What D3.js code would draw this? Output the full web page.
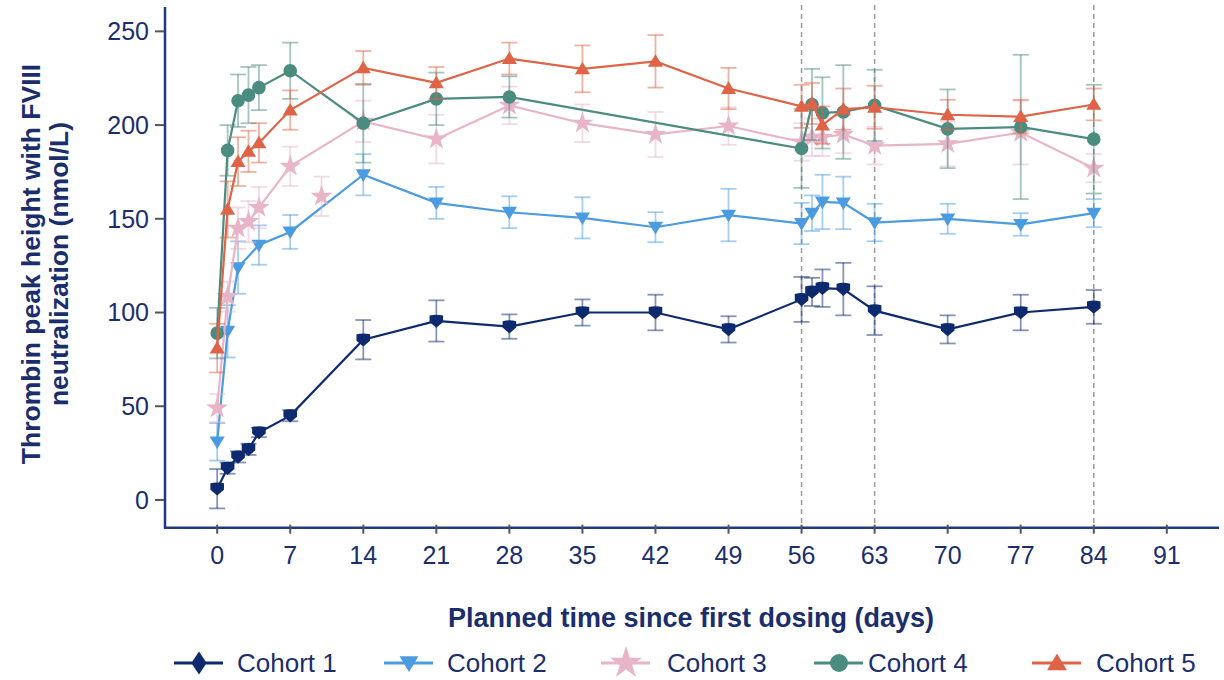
<!DOCTYPE html>
<html>
<head>
<meta charset="utf-8">
<script src="https://cdn.jsdelivr.net/npm/d3@7"></script>
<style>
  html, body { margin: 0; padding: 0; background: #fff; }
  svg { display: block; font-family: "Liberation Sans", Arial, Helvetica, sans-serif; }
</style>
</head>
<body>
<svg id="chart" width="1224" height="680"></svg>
<script>
// Planned visit days and mean (± error) thrombin peak height per cohort
const xTicks = [0, 7, 14, 21, 28, 35, 42, 49, 56, 63, 70, 77, 84, 91];
const yTicks = [0, 50, 100, 150, 200, 250];
const refDays = [56, 63, 84];

const cohortNames = ["Cohort 1", "Cohort 2", "Cohort 3", "Cohort 4", "Cohort 5"];

const c1Days = [0, 1, 2, 3, 4, 7, 14, 21, 28, 35, 42, 49, 56, 57, 58, 60, 63, 70, 77, 84];
const c1Vals = [6, 17, 23, 27, 36, 45, 85.5, 95.5, 92.5, 100, 100, 91, 107, 111, 113, 112.5, 101, 91, 100, 103];
const c1Errs = [10.5, 3, 3, 3, 2.5, 3, 10.5, 11, 6.5, 7, 9.5, 7, 12, 7.5, 10, 14, 13, 7.5, 9.5, 9];

const c2Days = [0, 1, 2, 4, 7, 14, 21, 28, 35, 42, 49, 56, 57, 58, 60, 63, 70, 77, 84];
const c2Vals = [31, 90, 124, 136, 143, 173.5, 158.5, 153.5, 150.5, 145.5, 152, 147.5, 153, 159, 158.5, 148, 150, 147, 153];
const c2Errs = [10, 14, 14, 10.5, 9, 11, 8.5, 8.5, 11, 8, 14, 11, 9.5, 14.5, 14, 10, 8, 6, 7.5];

const c3Days = [0, 1, 2, 3, 4, 7, 14, 21, 28, 35, 42, 49, 56, 57, 58, 60, 63, 70, 77, 84];
const c3Vals = [49, 108.5, 145, 148.5, 156, 178, 202, 192.5, 210.5, 201, 195, 199.5, 191, 193.5, 193.5, 195, 189, 190, 196, 177];
const c3Errs = [7.5, 8, 11, 11, 11, 10.5, 11, 13, 10, 10, 12, 10, 10, 10, 10, 10, 10, 12, 17, 7.5];
// Unscheduled visit, plotted without a connecting line
const c3ExtraDays = [10];
const c3ExtraVals = [162];
const c3ExtraErrs = [10.5];

const c4Days = [0, 1, 2, 3, 4, 7, 14, 21, 28, 56, 57, 58, 60, 63, 70, 77, 84];
const c4Vals = [89, 186.5, 213, 216, 220, 229, 201, 214, 215, 187.5, 211, 206.5, 207, 210.5, 198, 199, 192.5];
const c4Errs = [13.5, 13.5, 14, 15, 12, 15, 21, 14, 11, 21, 19, 19, 25, 19, 21, 38.5, 29];

const c5Days = [0, 1, 2, 3, 4, 7, 14, 21, 28, 35, 42, 49, 56, 57, 58, 60, 63, 70, 77, 84];
const c5Vals = [81, 155, 180.5, 186, 190.5, 208, 230.5, 222.5, 235.5, 230, 234, 219.5, 210, 211.5, 200, 208.5, 209.5, 205.5, 204.5, 211];
const c5Errs = [13, 15, 13, 11, 10.5, 10.5, 9, 8.5, 8.5, 12.5, 14, 11, 11.5, 11, 10, 11, 11.5, 8, 9, 8.5];

const colors = ["#0e2a6e", "#4b9be0", "#e8b4c8", "#4a8c80", "#df6447"];
const markerKinds = ["shield", "triDown", "star", "circle", "triUp"];
const legendKinds = ["diamond", "triDown", "star", "circle", "triUp"];

const zip = (d, v, e) => d.map((day, i) => ({ day, value: v[i], err: e[i] }));
const series = [
  { points: zip(c1Days, c1Vals, c1Errs), extra: [] },
  { points: zip(c2Days, c2Vals, c2Errs), extra: [] },
  { points: zip(c3Days, c3Vals, c3Errs), extra: zip(c3ExtraDays, c3ExtraVals, c3ExtraErrs) },
  { points: zip(c4Days, c4Vals, c4Errs), extra: [] },
  { points: zip(c5Days, c5Vals, c5Errs), extra: [] }
].map((s, i) => ({ ...s, name: cohortNames[i], color: colors[i], marker: markerKinds[i], legend: legendKinds[i] }));

const axisColor = "#1f3a82";
const textColor = "#1b2e6c";
const tickColor = "#555";

const svg = d3.select("#chart");

const x = d3.scaleLinear().domain([-5, 96]).range([165, 1219]);
const y = d3.scaleLinear().domain([-14.8, 263]).range([527.7, 7]);

function markerPath(kind, s) {
  switch (kind) {
    case "circle": return d3.symbol(d3.symbolCircle, Math.PI * s * s)();
    case "triUp": return `M0,${-s * 1.0}L${s * 1.05},${s * 0.75}L${-s * 1.05},${s * 0.75}Z`;
    case "triDown": return `M0,${s * 1.0}L${s * 1.05},${-s * 0.75}L${-s * 1.05},${-s * 0.75}Z`;
    case "star": return d3.symbol(d3.symbolStar, s * s * 3.2)();
    case "diamond": return `M0,${-s * 1.35}L${s * 0.9},0L0,${s * 1.35}L${-s * 0.9},0Z`;
    case "shield": return `M${-s},${-s * 0.8}Q0,${-s * 1.05} ${s},${-s * 0.8}L${s},${s * 0.15}L0,${s}L${-s},${s * 0.15}Z`;
  }
}
const markerSize = { circle: 6.8, triUp: 7.2, triDown: 7.2, star: 6.8, shield: 6.8, diamond: 7.5 };

// Reference lines at key visits
svg.append("g").selectAll("line").data(refDays).join("line")
  .attr("x1", d => x(d)).attr("x2", d => x(d))
  .attr("y1", 5).attr("y2", 527)
  .attr("stroke", "#9a9a9a").attr("stroke-width", 1.5)
  .attr("stroke-dasharray", "5,4");

// Y axis
const yAxis = svg.append("g").attr("transform", `translate(${x.range()[0]},0)`);
yAxis.append("line").attr("x1", 0).attr("x2", 0).attr("y1", 7).attr("y2", 528.5)
  .attr("stroke", axisColor).attr("stroke-width", 2.5);
yAxis.selectAll("line.tick").data(yTicks).join("line").attr("class", "tick")
  .attr("x1", -10).attr("x2", -1).attr("y1", d => y(d)).attr("y2", d => y(d))
  .attr("stroke", tickColor).attr("stroke-width", 2);
yAxis.selectAll("text").data(yTicks).join("text")
  .attr("x", -16).attr("y", d => y(d)).attr("dy", "0.35em")
  .attr("text-anchor", "end").attr("fill", textColor)
  .attr("font-size", 25).text(d => d);

// X axis
const xAxis = svg.append("g").attr("transform", `translate(0,${y.range()[0]})`);
xAxis.append("line").attr("x1", 164).attr("x2", 1219).attr("y1", 0).attr("y2", 0)
  .attr("stroke", axisColor).attr("stroke-width", 2.5);
xAxis.selectAll("line.tick").data(xTicks).join("line").attr("class", "tick")
  .attr("x1", d => x(d)).attr("x2", d => x(d)).attr("y1", -3).attr("y2", 6)
  .attr("stroke", tickColor).attr("stroke-width", 2);
xAxis.selectAll("text").data(xTicks).join("text")
  .attr("x", d => x(d)).attr("y", 36)
  .attr("text-anchor", "middle").attr("fill", textColor)
  .attr("font-size", 25).text(d => d);

// Axis titles
svg.append("text").attr("x", 691).attr("y", 627)
  .attr("text-anchor", "middle").attr("fill", textColor)
  .attr("font-size", 27).attr("font-weight", "bold")
  .text("Planned time since first dosing (days)");
const yTitle = svg.append("g").attr("transform", "translate(0,264) rotate(-90)")
  .attr("fill", textColor).attr("font-size", 26.5).attr("font-weight", "bold")
  .attr("text-anchor", "middle");
yTitle.append("text").attr("x", 0).attr("y", 40).text("Thrombin peak height with FVIII");
yTitle.append("text").attr("x", 0).attr("y", 68).text("neutralization (nmol/L)");

// Series: error bars, connecting line, markers
const line = d3.line().x(d => x(d.day)).y(d => y(d.value));
const capHalf = 8;

series.forEach(s => {
  const g = svg.append("g");
  const all = s.points.concat(s.extra);
  const eb = g.append("g").attr("stroke", s.color).attr("stroke-width", 1.8).attr("stroke-opacity", 0.5);
  eb.selectAll("line.v").data(all).join("line").attr("class", "v")
    .attr("x1", d => x(d.day)).attr("x2", d => x(d.day))
    .attr("y1", d => y(d.value - d.err)).attr("y2", d => y(d.value + d.err));
  eb.selectAll("line.t").data(all).join("line").attr("class", "t")
    .attr("x1", d => x(d.day) - capHalf).attr("x2", d => x(d.day) + capHalf)
    .attr("y1", d => y(d.value + d.err)).attr("y2", d => y(d.value + d.err));
  eb.selectAll("line.b").data(all).join("line").attr("class", "b")
    .attr("x1", d => x(d.day) - capHalf).attr("x2", d => x(d.day) + capHalf)
    .attr("y1", d => y(d.value - d.err)).attr("y2", d => y(d.value - d.err));

  g.append("path").datum(s.points).attr("d", line)
    .attr("fill", "none").attr("stroke", s.color).attr("stroke-width", 2.2);

  g.selectAll("path.m").data(all).join("path").attr("class", "m")
    .attr("transform", d => `translate(${x(d.day)},${y(d.value)})`)
    .attr("d", markerPath(s.marker, markerSize[s.marker]))
    .attr("fill", s.color);
});

// Legend
const legendItems = [
  { lx: 199, tx: 237 },
  { lx: 409, tx: 447 },
  { lx: 626, tx: 667 },
  { lx: 839, tx: 868 },
  { lx: 1057, tx: 1096 }
];
const legend = svg.append("g").attr("transform", "translate(0,663)");
series.forEach((s, i) => {
  const it = legendItems[i];
  const g = legend.append("g");
  g.append("line").attr("x1", it.lx - 25).attr("x2", it.lx + 24).attr("y1", 0).attr("y2", 0)
    .attr("stroke", s.color).attr("stroke-width", 3);
  const k = s.legend;
  const sz = { diamond: 8.5, triDown: 9, star: 10, circle: 9, triUp: 9.5 }[k];
  g.append("path").attr("transform", `translate(${it.lx},0)`)
    .attr("d", markerPath(k, sz)).attr("fill", s.color);
  g.append("text").attr("x", it.tx).attr("y", 0).attr("dy", "0.35em")
    .attr("fill", textColor).attr("font-size", 26).text(s.name);
});
</script>
</body>
</html>
